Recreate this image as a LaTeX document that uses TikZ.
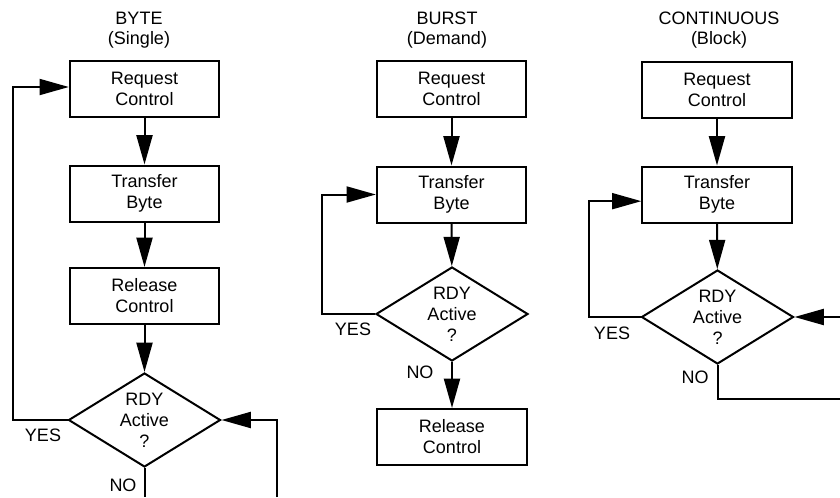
\documentclass[tikz,border=0pt]{standalone}
\usepackage{fontspec}
\setmainfont{Liberation Sans}
\usetikzlibrary{arrows.meta,shapes.geometric}
\newcommand{\flowfont}{\fontsize{13.5}{15.75}\selectfont}
\tikzset{
  box/.style={draw, line width=1.5pt, minimum width=112pt, minimum height=42pt, align=center, font=\flowfont},
  test/.style={draw, diamond, line width=1.5pt, aspect=1.62, minimum width=114pt, minimum height=70.5pt, inner sep=0pt, align=center, font=\flowfont},
  flow/.style={line width=1.5pt, -{Triangle[length=22pt,width=12pt]}},
  wire/.style={line width=1.5pt},
  tag/.style={font=\flowfont},
  head/.style={align=center, font=\fontsize{13.5}{15}\selectfont}
}

\begin{document}
\begin{tikzpicture}[x=0.75pt,y=-0.75pt]
\useasboundingbox (0,0) rectangle (840,497);

% BYTE
\node[head] (hA) at (139,30) {BYTE\\(Single)};
\node[box] (reqA) at (144.5,89) {Request\\Control};
\node[box] (trA) at (144.5,193.5) {Transfer\\Byte};
\node[box] (relA) at (144.5,296) {Release\\Control};
\node[test] (dA) at (144.5,420) {RDY\\Active\\?};
\node[tag] (yesA) at (43,435) {YES};
\node[tag] (noA) at (123,485) {NO};
\coordinate (outA) at (144.5,497);
\coordinate (inA) at (277,497);
\draw[flow] (reqA) -- (trA);
\draw[flow] (trA) -- (relA);
\draw[flow] (relA) -- (dA);
\draw[flow] (dA.west) -- ++(-55,0) |- ([yshift=1.5pt]reqA.west);
\draw[wire] (dA.south) -- (outA);
\draw[flow] (inA) |- (dA.east);

% BURST
\node[head] (hB) at (447,30) {BURST\\(Demand)};
\node[box] (reqB) at (451.5,89) {Request\\Control};
\node[box] (trB) at (451.5,194.5) {Transfer\\Byte};
\node[test] (dB) at (452,314) {RDY\\Active\\?};
\node[box] (relB) at (452,437) {Release\\Control};
\node[tag] (yesB) at (353,329) {YES};
\node[tag] (noB) at (420,372) {NO};
\draw[flow] (reqB) -- (trB);
\draw[flow] (trB) -- (dB);
\draw[flow] (dB) -- (relB);
\draw[flow] (dB.west) -- ++(-53,0) |- (trB.west);

% CONTINUOUS
\node[head] (hC) at (719,30) {CONTINUOUS\\(Block)};
\node[box] (reqC) at (717,89.5) {Request\\Control};
\node[box] (trC) at (717,194.5) {Transfer\\Byte};
\node[test] (dC) at (717.5,317) {RDY\\Active\\?};
\node[tag] (yesC) at (612,333) {YES};
\node[tag] (noC) at (695,377) {NO};
\coordinate (inC) at (840,317);
\coordinate (outC) at (840,399);
\draw[flow] (reqC) -- (trC);
\draw[flow] (trC) -- (dC);
\draw[flow] (dC.west) -- ++(-52,0) |- ([yshift=-5pt]trC.west);
\draw[flow] (inC) -- (dC.east);
\draw[wire] (dC.south) |- (outC);
\end{tikzpicture}
\end{document}
